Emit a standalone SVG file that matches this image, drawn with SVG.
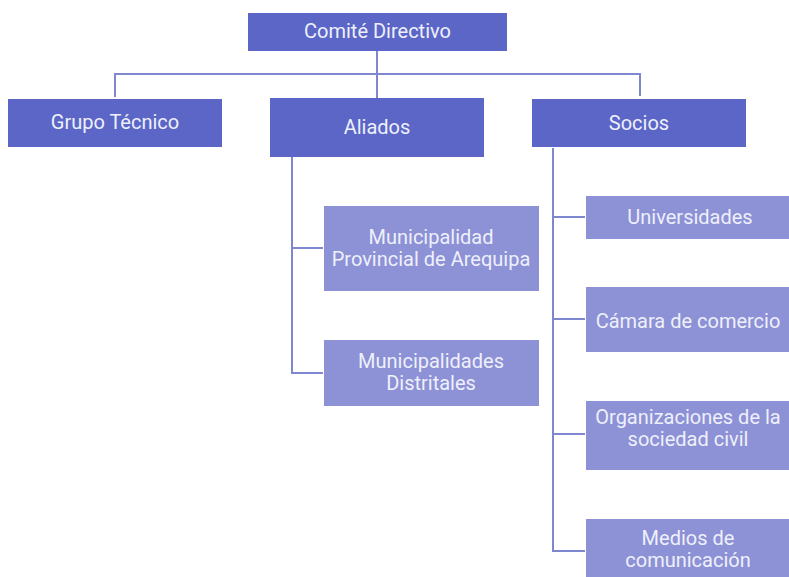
<svg xmlns="http://www.w3.org/2000/svg" width="789" height="577" viewBox="0 0 789 577">
<style>
.dark{fill:#5b66c7}
.light{fill:#8d91d5}
.t{font-family:Roboto,"Liberation Sans",sans-serif;font-size:20px;fill:#eef0fb;text-anchor:middle}
.c{fill:none;stroke:#7f87d0;stroke-width:2}
</style>
<rect width="789" height="577" fill="#ffffff"/>
<g id="connectors">
<path class="c" d="M377,51 V98"/>
<path class="c" d="M115,97 V74 H640 V96"/>
<path class="c" d="M292,157 V373 H323 M292,248 H323"/>
<path class="c" d="M553,148 V551 H585 M553,217 H585 M553,319 H585 M553,434 H585"/>
</g>
<g id="comite"><rect class="dark" x="248" y="13" width="259" height="38"/><text class="t" x="377.5" y="38">Comité Directivo</text></g>
<g id="grupo"><rect class="dark" x="8" y="99" width="214" height="48"/><text class="t" x="115" y="129">Grupo Técnico</text></g>
<g id="aliados"><rect class="dark" x="270" y="98" width="214" height="59"/><text class="t" x="377" y="134">Aliados</text></g>
<g id="socios"><rect class="dark" x="532" y="99" width="214" height="48"/><text class="t" x="639" y="130">Socios</text></g>
<g id="mpa"><rect class="light" x="324" y="206" width="215" height="85"/><text class="t" x="431" y="244">Municipalidad</text><text class="t" x="431" y="266">Provincial de Arequipa</text></g>
<g id="md"><rect class="light" x="324" y="340" width="215" height="66"/><text class="t" x="431" y="368">Municipalidades</text><text class="t" x="431" y="390">Distritales</text></g>
<g id="univ"><rect class="light" x="586" y="196" width="210" height="43"/><text class="t" x="690" y="224">Universidades</text></g>
<g id="camara"><rect class="light" x="586" y="287" width="210" height="65"/><text class="t" x="688" y="328">Cámara de comercio</text></g>
<g id="org"><rect class="light" x="586" y="401" width="210" height="69"/><text class="t" x="688" y="424">Organizaciones de la</text><text class="t" x="688" y="446">sociedad civil</text></g>
<g id="medios"><rect class="light" x="586" y="519" width="210" height="65"/><text class="t" x="688" y="545">Medios de</text><text class="t" x="688" y="567">comunicación</text></g>
</svg>
